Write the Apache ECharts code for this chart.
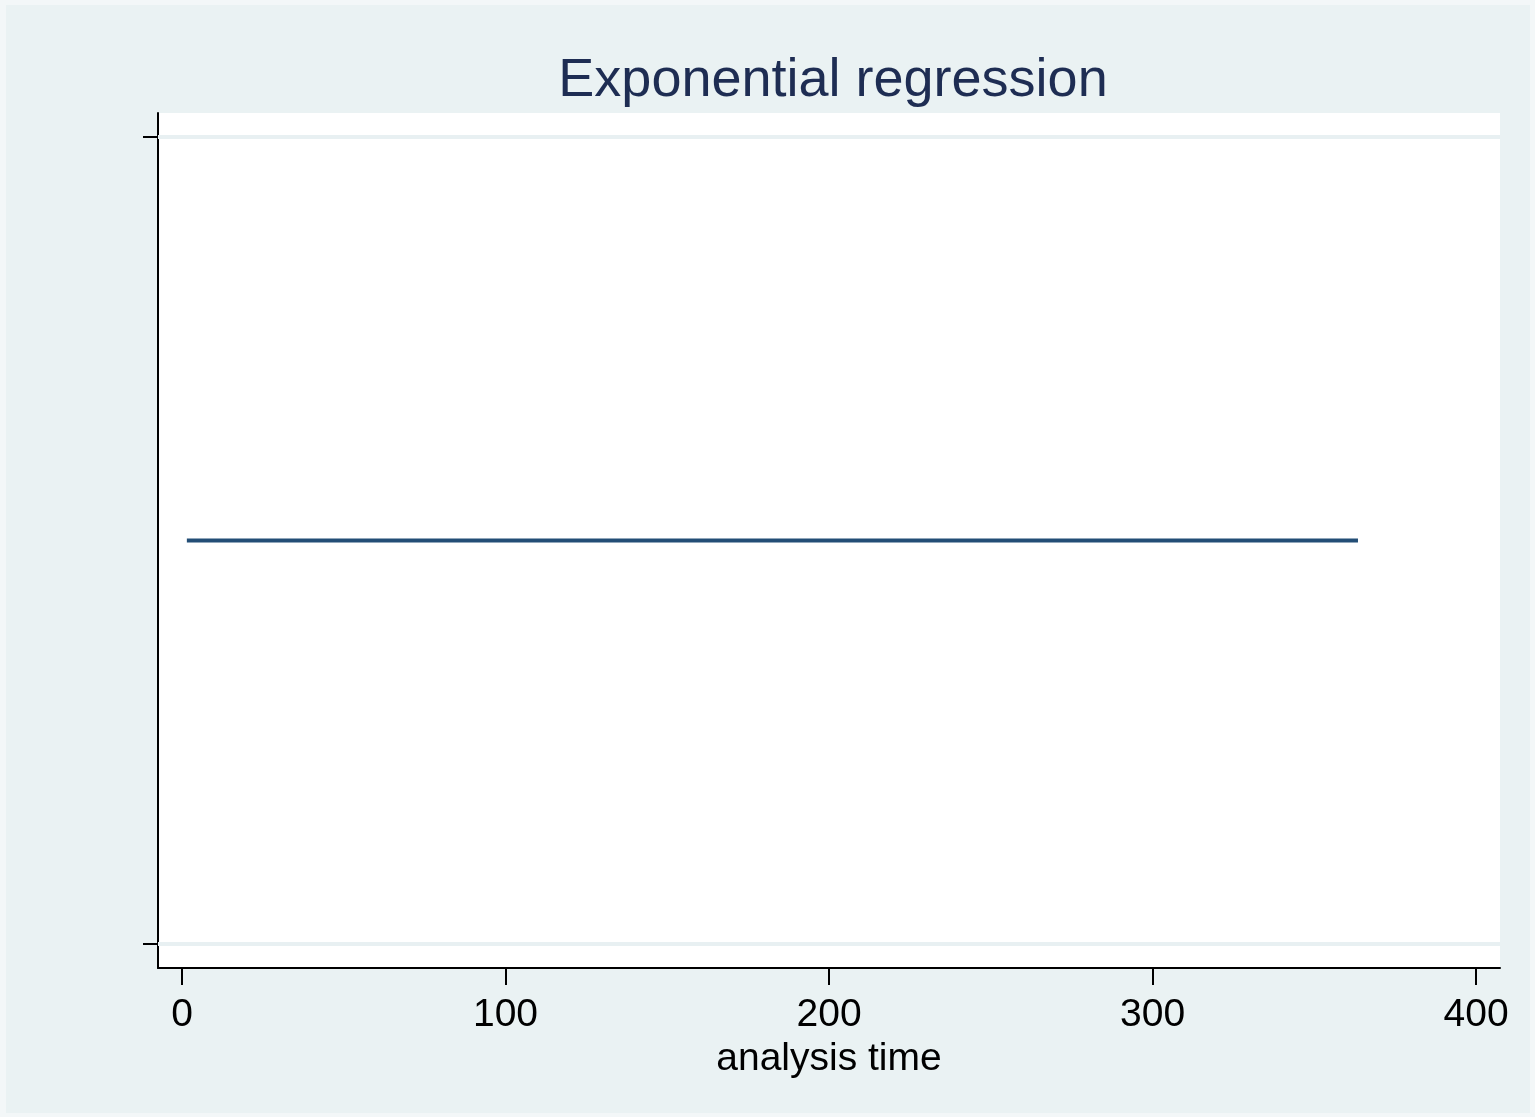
<!DOCTYPE html>
<html>
<head>
<meta charset="utf-8">
<script src="https://cdn.jsdelivr.net/npm/echarts@6/dist/echarts.min.js"></script>
<style>
  html, body { margin: 0; padding: 0; background: #f3f7f8; }
  #main { position: absolute; left: 6px; top: 5px; width: 1524px; height: 1108px; }
</style>
</head>
<body>
<div id="main"></div>
<script>
// fitted survival curve (flat)
var times = [1.5, 363.5];
var survival = [0.5, 0.5];
var xTicks = [0, 100, 200, 300, 400];
var yTicks = [0, 1];

var myChart = echarts.init(document.getElementById('main'));

var lineData = [];
for (var i = 0; i < times.length; i++) {
    lineData.push([times[i], survival[i]]);
}

var option = {
    backgroundColor: '#eaf2f3',
    animation: false,
    title: {
        text: 'Exponential regression',
        left: 822,
        top: 44,
        textAlign: 'center',
        textStyle: {
            fontFamily: 'Liberation Sans',
            fontSize: 54,
            fontWeight: 'normal',
            color: '#1e2d53'
        }
    },
    grid: {
        left: 152,
        top: 108,
        right: 30,
        bottom: 145,
        show: true,
        backgroundColor: '#ffffff',
        borderWidth: 0
    },
    xAxis: {
        type: 'value',
        min: -7.42,
        max: 407.4,
        name: 'analysis time',
        nameLocation: 'middle',
        nameGap: 68,
        nameTextStyle: {
            fontFamily: 'Liberation Sans',
            fontSize: 39,
            color: '#000'
        },
        axisLine: { show: true, onZero: false, lineStyle: { color: '#000', width: 2 } },
        axisTick: { show: true, length: 17, customValues: xTicks, lineStyle: { color: '#000', width: 2 } },
        axisLabel: {
            customValues: xTicks,
            margin: 28,
            fontFamily: 'Liberation Sans',
            fontSize: 39,
            color: '#000'
        },
        splitLine: { show: false }
    },
    yAxis: {
        type: 'value',
        min: -0.0297,
        max: 1.0297,
        axisLine: { show: true, onZero: false, lineStyle: { color: '#000', width: 2 } },
        axisTick: { show: true, length: 15, customValues: yTicks, lineStyle: { color: '#000', width: 2 } },
        axisLabel: { show: false },
        splitLine: { show: false }
    },
    series: [
        {
            type: 'line',
            data: lineData,
            symbol: 'none',
            lineStyle: { color: '#234e76', width: 4 },
            z: 3,
            markLine: {
                silent: true,
                symbol: 'none',
                label: { show: false },
                lineStyle: { color: '#e8f0f2', width: 4, type: 'solid' },
                data: yTicks.map(function (v) { return { yAxis: v }; }),
                z: 1
            }
        }
    ]
};

myChart.setOption(option);
</script>
</body>
</html>
